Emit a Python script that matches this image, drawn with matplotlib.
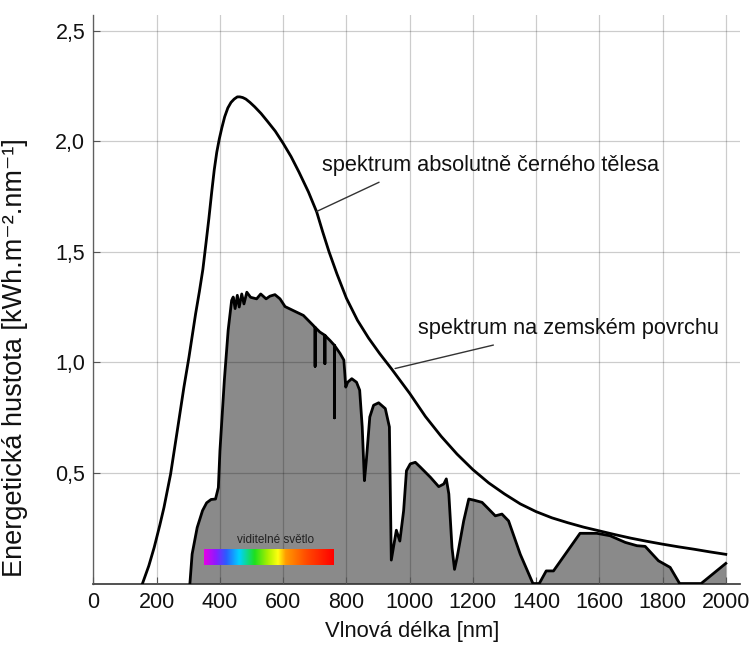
import numpy as np
import matplotlib
matplotlib.use("Agg")
import matplotlib.pyplot as plt
from matplotlib.colors import LinearSegmentedColormap

plt.rcParams['font.family'] = ['Liberation Sans', 'DejaVu Sans']

# black body curve (nm, kWh.m-2.nm-1)
bb_nm = [155, 175, 192, 210, 223, 244, 265, 286, 302, 323, 335, 346, 356, 365,
         374, 382, 390, 398, 406, 415, 425, 435, 445, 455, 463, 472, 482, 495,
         510, 530, 550, 575, 600, 625, 650, 680, 706, 725, 745, 770, 800, 835,
         870, 905, 943, 1000, 1050, 1100, 1150, 1200, 1250, 1300, 1350, 1400,
         1450, 1500, 1550, 1600, 1650, 1700, 1750, 1800, 1850, 1900, 1950, 2000]
bb_val = [0.0, 0.08, 0.163, 0.265, 0.344, 0.495, 0.69, 0.887, 1.023, 1.219,
          1.32, 1.42, 1.54, 1.65, 1.77, 1.87, 1.95, 2.01, 2.06, 2.11, 2.15,
          2.175, 2.19, 2.2, 2.2, 2.197, 2.19, 2.175, 2.155, 2.125, 2.09, 2.045,
          1.99, 1.93, 1.86, 1.77, 1.68, 1.59, 1.5, 1.4, 1.29, 1.19, 1.11, 1.04,
          0.97, 0.86, 0.755, 0.665, 0.585, 0.515, 0.455, 0.405, 0.36, 0.325,
          0.297, 0.275, 0.255, 0.238, 0.221, 0.205, 0.191, 0.178, 0.166, 0.155,
          0.143, 0.132]

# spectrum at the earth's surface
sf_nm = [305, 312, 328, 345, 358, 372, 386, 395, 400, 407, 414, 426, 437, 442,
         448, 455, 461, 469, 476, 485, 497, 516, 529, 546, 558, 574, 590, 606,
         632, 664, 695, 701, 701, 701, 716, 732, 732, 732, 748, 762, 762, 762,
         780, 792, 798, 804, 817, 832, 842, 850, 857, 863, 874, 886, 902, 923,
         936, 939, 942, 958, 969, 981, 990, 1002, 1018, 1034, 1066, 1092, 1108,
         1116, 1124, 1134, 1142, 1150, 1171, 1187, 1203, 1229, 1245, 1271, 1292,
         1313, 1350, 1390, 1410, 1432, 1455, 1539, 1592, 1634, 1682, 1719, 1745,
         1787, 1824, 1854, 1922, 2000]
sf_val = [0.0, 0.133, 0.253, 0.33, 0.365, 0.38, 0.382, 0.434, 0.6, 0.76, 0.92,
          1.145, 1.28, 1.295, 1.243, 1.303, 1.25, 1.309, 1.264, 1.317, 1.294,
          1.287, 1.309, 1.287, 1.299, 1.306, 1.287, 1.252, 1.234, 1.212, 1.167,
          1.158, 0.982, 1.158, 1.137, 1.122, 0.994, 1.122, 1.099, 1.077, 0.749,
          1.077, 1.04, 1.01, 0.888, 0.91, 0.926, 0.91, 0.874, 0.708, 0.465, 0.556,
          0.753, 0.806, 0.817, 0.791, 0.708, 0.405, 0.106, 0.241, 0.192, 0.329,
          0.51, 0.541, 0.548, 0.526, 0.48, 0.438, 0.45, 0.473, 0.405, 0.162, 0.064,
          0.117, 0.283, 0.382, 0.377, 0.367, 0.344, 0.306, 0.314, 0.283, 0.132,
          0.0, 0.0, 0.057, 0.057, 0.227, 0.227, 0.216, 0.186, 0.171, 0.168, 0.103,
          0.073, 0.0, 0.0, 0.091]

x_ticks = [0, 200, 400, 600, 800, 1000, 1200, 1400, 1600, 1800, 2000]
y_ticks = [0.5, 1.0, 1.5, 2.0, 2.5]
y_ticklabels = ['0,5', '1,0', '1,5', '2,0', '2,5']

# visible light band
vis_nm = (350, 760)
vis_colors = [(0.0, '#e600e6'), (0.09, '#8c1aff'), (0.17, '#2a5cff'),
              (0.27, '#00d2ff'), (0.39, '#1ee01e'), (0.49, '#a8f000'),
              (0.57, '#ffff10'), (0.63, '#ff9a00'), (0.79, '#ff4a00'),
              (1.0, '#ff0000')]

fig = plt.figure(figsize=(7.49, 6.45), dpi=100)
ax = fig.add_axes([0.1248, 0.0953, 0.8632, 0.8814])

ax.fill_between(sf_nm, sf_val, 0, color='#8a8a8a', lw=0, zorder=1)
ax.plot(sf_nm, sf_val, color='black', lw=2.0, zorder=3,
        solid_joinstyle='round')
ax.plot(bb_nm, bb_val, color='black', lw=2.0, zorder=3,
        solid_joinstyle='round')

cmap = LinearSegmentedColormap.from_list('vis', vis_colors)
ax.imshow(np.linspace(0, 1, 256).reshape(1, -1), cmap=cmap, aspect='auto',
          extent=(vis_nm[0], vis_nm[1], 0.083, 0.151), zorder=4)
ax.text(577, 0.197, 'viditelné světlo', fontsize=8.5, ha='center',
        va='center', color='#222222', zorder=4)

ax.annotate('spektrum absolutně černého tělesa', xy=(706, 1.682),
            xytext=(722, 1.89), fontsize=15.7, va='center', color='#111111',
            arrowprops=dict(arrowstyle='-', color='#333333', lw=1,
                            shrinkA=0, shrinkB=0,
                            relpos=(0.17, -0.3)))
ax.annotate('spektrum na zemském povrchu', xy=(954, 0.972),
            xytext=(1027, 1.154), fontsize=15.7, va='center', color='#111111',
            arrowprops=dict(arrowstyle='-', color='#333333', lw=1,
                            shrinkA=0, shrinkB=0,
                            relpos=(0.25, -0.3)))

ax.set_xlim(0, 2045)
ax.set_ylim(0, 2.57)
ax.set_xticks(x_ticks)
ax.set_yticks(y_ticks)
ax.set_yticklabels(y_ticklabels)
ax.tick_params(direction='in', length=5, width=0.8, colors='#555555',
               labelcolor='#111111', labelsize=15.5, pad=6)
ax.grid(True, color='black', alpha=0.2, lw=0.9)
ax.set_axisbelow(False)

for side in ('top', 'right'):
    ax.spines[side].set_visible(False)
ax.spines['left'].set_color('#777777')
ax.spines['bottom'].set_color('#333333')
ax.spines['left'].set_linewidth(1.0)
ax.spines['bottom'].set_linewidth(1.2)

ax.set_xlabel('Vlnová délka [nm]', fontsize=15.8, color='#111111')
ax.xaxis.set_label_coords(0.493, -0.066)
ax.set_ylabel('Energetická hustota [kWh.m⁻².nm⁻¹]', fontsize=19.5,
              color='#111111')
ax.yaxis.set_label_coords(-0.101, 0.398)

fig.savefig('out.png', dpi=100)
